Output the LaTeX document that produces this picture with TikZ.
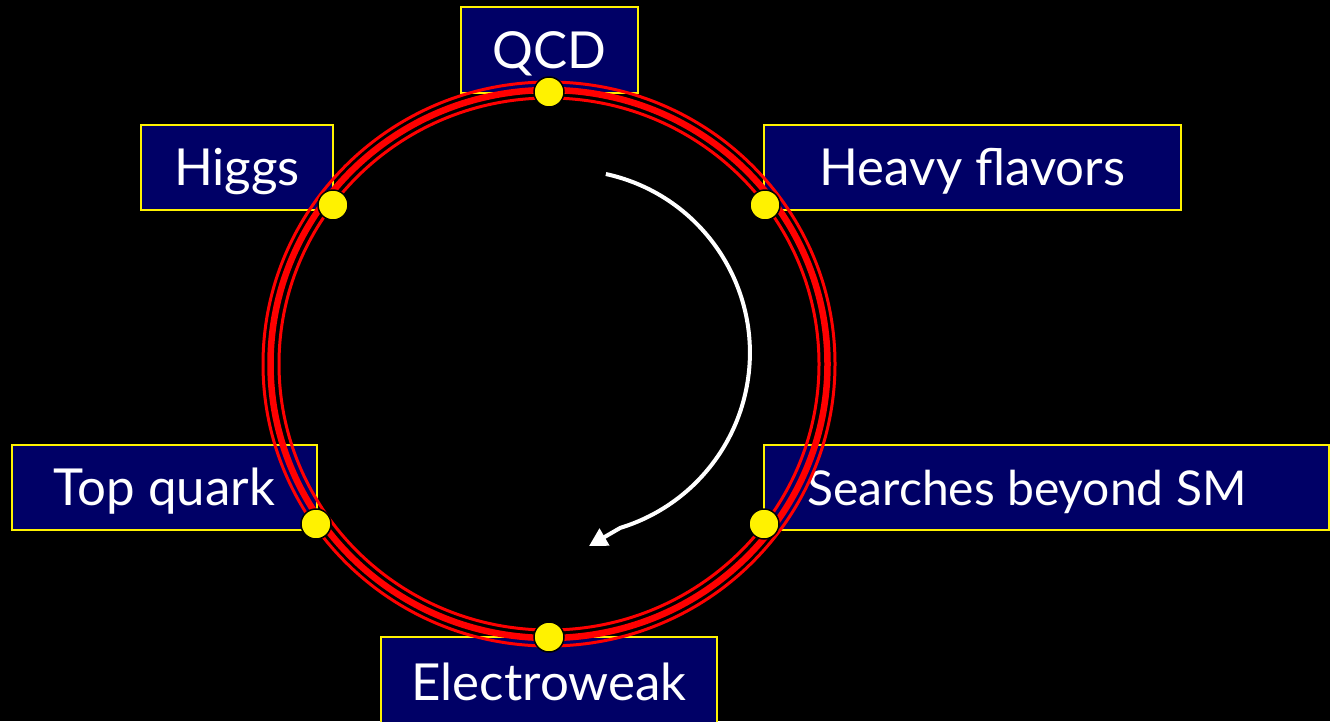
\documentclass[tikz,border=0pt]{standalone}
\usepackage{fontspec}
\setmainfont{Lato}
\usetikzlibrary{arrows.meta}
\definecolor{navy}{RGB}{0,0,102}
\definecolor{ringred}{RGB}{255,0,0}
\tikzset{
  topicbox/.style={draw=yellow, line width=2pt, fill=navy, inner sep=0pt,
    text=white, font=\fontsize{51}{55}\selectfont, text height=36pt, text depth=0pt},
  topictext/.style={inner sep=0pt, text=white, font=\fontsize{48}{52}\selectfont,
    text height=35pt, text depth=0pt},
  ringthin/.style={draw=ringred, line width=3pt},
  ringthick/.style={draw=ringred, line width=6.5pt},
  topicdot/.style={circle, fill=yellow, draw=black, line width=1.5pt,
    minimum size=30pt, inner sep=0pt},
  cyclearrow/.style={draw=white, line width=4pt, -{Triangle[length=18pt,width=19pt]}}
}
\begin{document}
\begin{tikzpicture}[x=1pt,y=1pt]
\useasboundingbox (0,0) rectangle (1330,-721);
\fill[black] (0,0) rectangle (1330,-721);

% boxes
\node[topicbox, minimum width=177pt, minimum height=86pt] (qcd) at (549.5,-50) {QCD};
\node[topicbox, minimum width=192pt, minimum height=85pt] (higgs) at (237,-167.5) {Higgs};
\node[topicbox, minimum width=417pt, minimum height=85pt] (heavy) at (972.5,-167.5) {Heavy flavors};
\node[topicbox, minimum width=305pt, minimum height=85pt] (top) at (164.5,-487.5) {Top quark};
\node[topicbox, minimum width=565pt, minimum height=85pt] (searches) at (1046.5,-487.5) {};
\node[topictext] (searchestext) at (1027,-487.5) {Searches beyond SM};
\node[topicbox, minimum width=336pt, minimum height=90pt] (ew) at (549,-682) {Electroweak};

% ring
\coordinate (ringc) at (549,-364);
\draw[ringthin] (ringc) ellipse [x radius=286, y radius=282];
\draw[ringthick] (ringc) ellipse [x radius=278.5, y radius=274];
\draw[ringthin] (ringc) ellipse [x radius=270, y radius=266];

% dots
\node[topicdot] (dqcd) at (549,-92) {};
\node[topicdot] (dhiggs) at (333,-205) {};
\node[topicdot] (dheavy) at (765,-205) {};
\node[topicdot] (dtop) at (316,-524) {};
\node[topicdot] (dsearch) at (764,-524) {};
\node[topicdot] (dew) at (549,-637) {};

% arrow
\coordinate (arcstart) at ({566.9+183*cos(77.7)},{-352.8+183*sin(77.7)});
\coordinate (arrowend) at (589,-546);
\draw[cyclearrow] (arcstart) arc[start angle=77.7, end angle=-73, radius=183] -- (arrowend);
\end{tikzpicture}
\end{document}
